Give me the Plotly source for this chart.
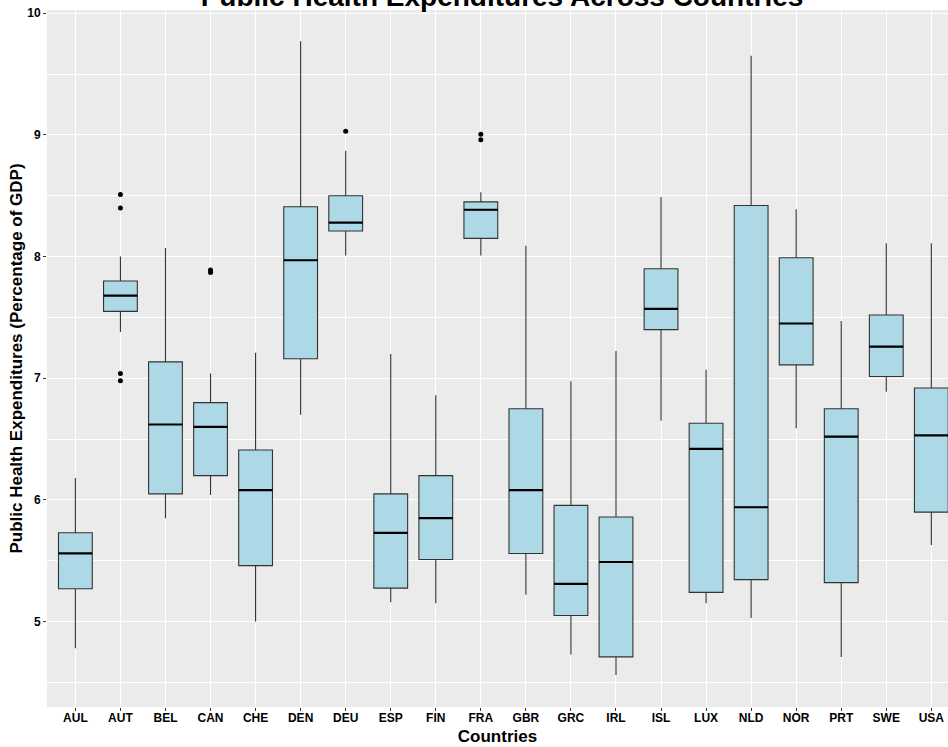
import plotly.graph_objects as go

countries = ["AUL", "AUT", "BEL", "CAN", "CHE", "DEN", "DEU", "ESP", "FIN", "FRA",
             "GBR", "GRC", "IRL", "ISL", "LUX", "NLD", "NOR", "PRT", "SWE", "USA"]
lower_whisker = [4.78, 7.38, 5.85, 6.04, 5.00, 6.70, 8.01, 5.16, 5.15, 8.01,
                 5.22, 4.73, 4.56, 6.65, 5.15, 5.03, 6.59, 4.71, 6.89, 5.63]
q1 = [5.27, 7.55, 6.05, 6.20, 5.46, 7.16, 8.21, 5.275, 5.51, 8.15,
      5.56, 5.05, 4.71, 7.40, 5.24, 5.345, 7.11, 5.32, 7.015, 5.90]
median = [5.56, 7.68, 6.62, 6.60, 6.08, 7.97, 8.28, 5.73, 5.85, 8.385,
          6.08, 5.31, 5.49, 7.57, 6.42, 5.94, 7.45, 6.52, 7.26, 6.53]
q3 = [5.73, 7.80, 7.135, 6.80, 6.41, 8.41, 8.50, 6.05, 6.20, 8.45,
      6.75, 5.955, 5.86, 7.90, 6.63, 8.42, 7.99, 6.75, 7.52, 6.92]
upper_whisker = [6.18, 8.00, 8.07, 7.04, 7.21, 9.77, 8.87, 7.20, 6.86, 8.53,
                 8.09, 6.975, 7.225, 8.49, 7.07, 9.65, 8.39, 7.47, 8.11, 8.11]
outlier_country = ["AUT", "AUT", "AUT", "AUT", "CAN", "CAN", "DEU", "FRA", "FRA"]
outlier_value = [8.51, 8.40, 7.04, 6.98, 7.89, 7.87, 9.03, 9.005, 8.96]

y_ticks = [5, 6, 7, 8, 9, 10]

positions = list(range(len(countries)))
box_width = 0.75
FONT = "Liberation Sans, Arial, sans-serif"

fig = go.Figure()
fig.add_trace(go.Box(
    x=positions, q1=q1, median=median, q3=q3,
    lowerfence=lower_whisker, upperfence=upper_whisker,
    width=box_width, whiskerwidth=0, boxpoints=False,
    fillcolor="#ADD8E6", line=dict(color="#333333", width=1.1),
    showlegend=False, hoverinfo="skip",
))

# thicker median lines (ggplot fatten)
mx, my = [], []
for p, m in zip(positions, median):
    mx += [p - box_width / 2, p + box_width / 2, None]
    my += [m, m, None]
fig.add_trace(go.Scatter(x=mx, y=my, mode="lines",
                         line=dict(color="black", width=2.2),
                         showlegend=False, hoverinfo="skip"))

ox = [countries.index(c) for c in outlier_country]
fig.add_trace(go.Scatter(x=ox, y=outlier_value, mode="markers",
                         marker=dict(color="black", size=5),
                         showlegend=False, hoverinfo="skip"))

fig.update_layout(
    width=948, height=747,
    margin=dict(l=47, r=0, t=10, b=40),
    paper_bgcolor="white", plot_bgcolor="#EBEBEB",
    font=dict(family=FONT, color="black"),
    title=dict(text="<b>Public Health Expenditures Across Countries</b>",
               font=dict(size=28, family=FONT, color="black"),
               x=502 / 948, xanchor="center", xref="container",
               y=1 - 5.5 / 747, yanchor="bottom", yref="container"),
    showlegend=False,
)
fig.update_xaxes(
    range=[-0.63, 19.37], tickmode="array", tickvals=positions, ticktext=countries,
    showgrid=True, gridcolor="white", gridwidth=1.1, zeroline=False,
    ticks="outside", ticklen=3, tickwidth=1, tickcolor="#333333",
    tickfont=dict(size=12, family=FONT, color="black", weight="bold"),
    ticklabelstandoff=-3,
    title=dict(text="<b>Countries</b>", font=dict(size=17, family=FONT, color="black"), standoff=5),
    automargin=False, showline=False,
)
fig.update_yaxes(
    range=[4.298, 10.027], tickmode="array", tickvals=y_ticks,
    showgrid=True, gridcolor="white", gridwidth=1.1, zeroline=False,
    minor=dict(tickmode="linear", tick0=4.5, dtick=1, showgrid=True,
               gridcolor="white", gridwidth=0.5, ticks=""),
    ticks="outside", ticklen=3, tickwidth=1, tickcolor="#333333",
    tickfont=dict(size=12, family=FONT, color="black", weight="bold"),
    title=dict(text="<b>Public Health Expenditures (Percentage of GDP)</b>",
               font=dict(size=17, family=FONT, color="black"), standoff=0),
    automargin=False, showline=False,
)

fig.write_html("out.html", config={"displayModeBar": False},
               post_script="document.body.style.margin='0';document.body.style.overflow='hidden';")
